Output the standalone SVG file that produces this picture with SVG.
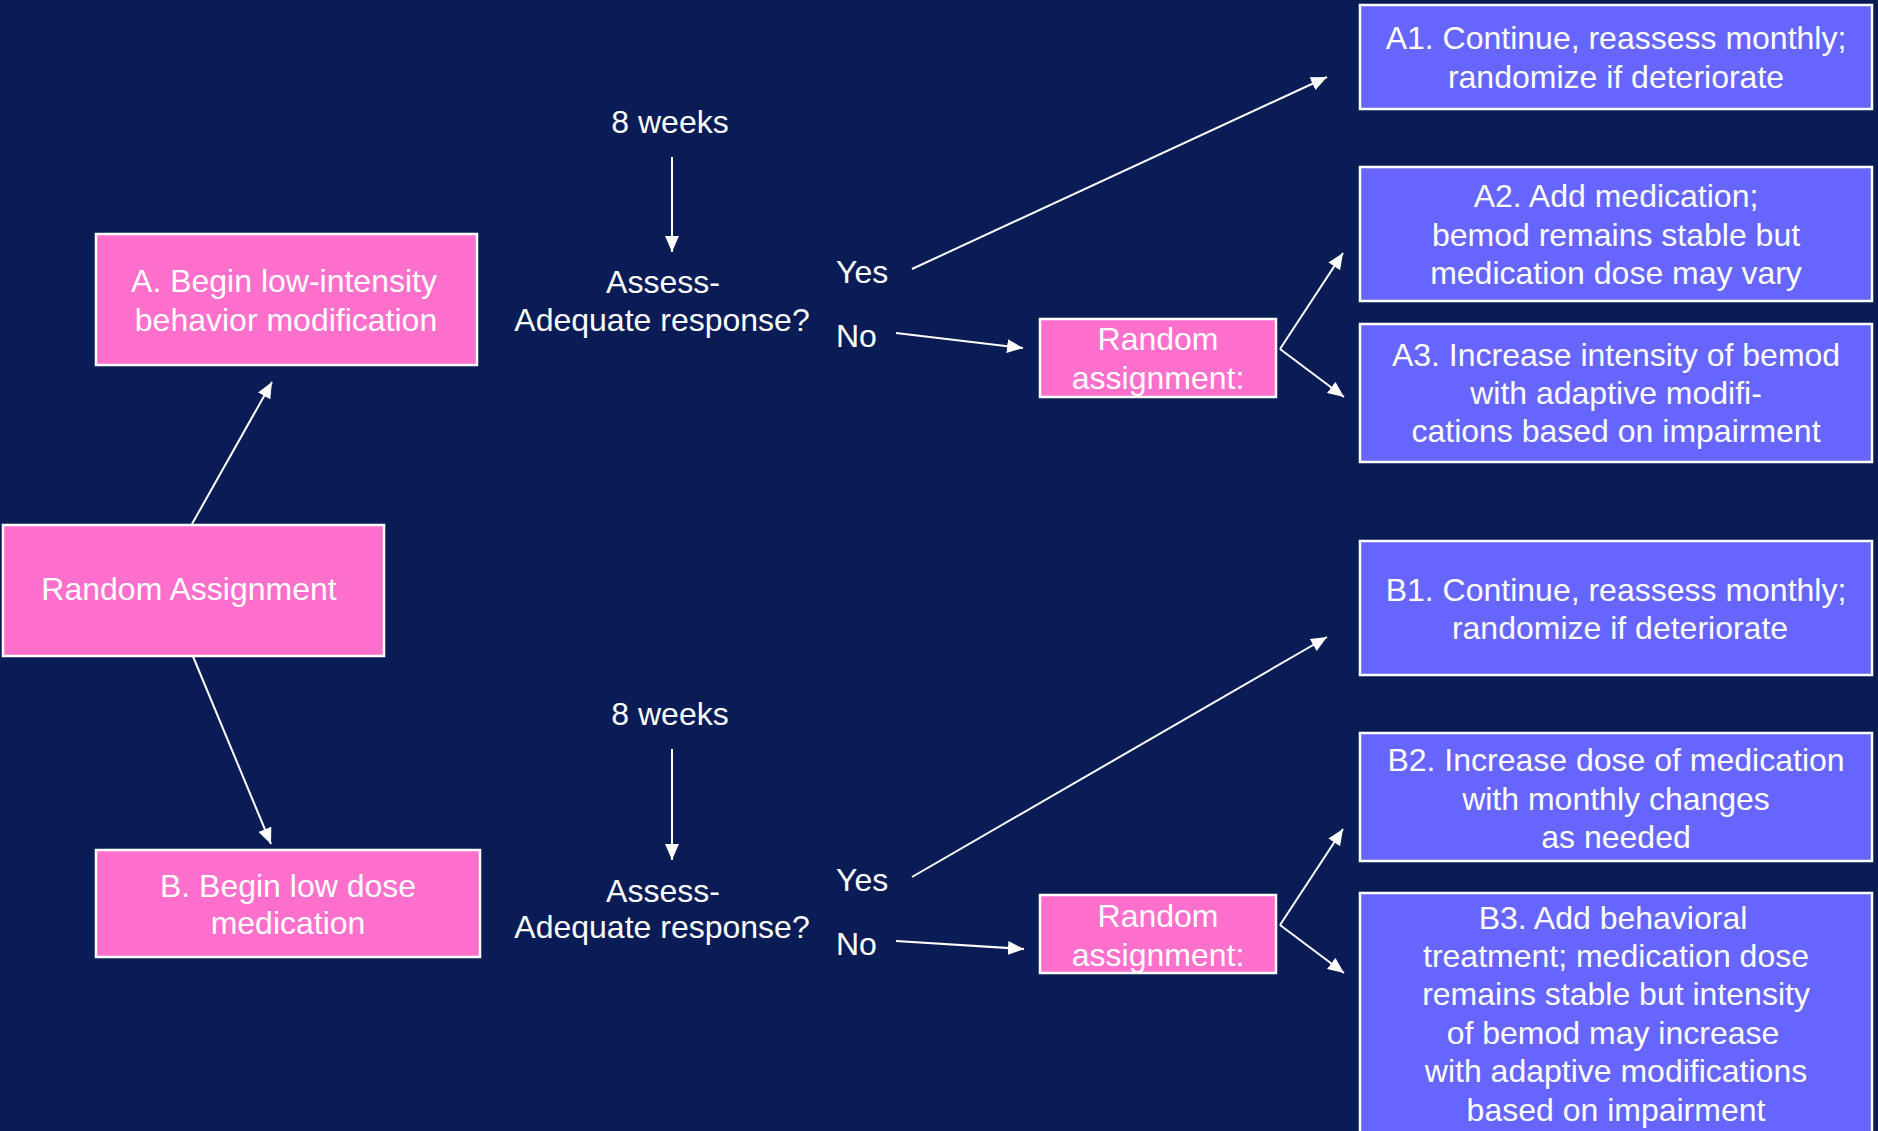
<svg xmlns="http://www.w3.org/2000/svg" width="1878" height="1131" viewBox="0 0 1878 1131">
<defs>
<style>
.bg{fill:#0a1c56}
.pink{fill:#ff70cc;stroke:#ffffff;stroke-width:2.5}
.blue{fill:#6666ff;stroke:#ffffff;stroke-width:2.5}
text{font-family:"Liberation Sans",Arial,sans-serif;font-size:32px;fill:#ffffff}
.c{text-anchor:middle}
.ln{stroke:#ffffff;stroke-width:2;fill:none}
</style>
<marker id="ah" viewBox="0 0 16 14" refX="16" refY="7" markerWidth="16" markerHeight="14" markerUnits="userSpaceOnUse" orient="auto">
<path d="M0,0 L16,7 L0,14 z" fill="#ffffff"/>
</marker>
</defs>
<rect class="bg" x="0" y="0" width="1878" height="1131"/>

<g id="connectors">
<line class="ln" x1="192" y1="524" x2="272" y2="382" marker-end="url(#ah)"/>
<line class="ln" x1="192" y1="654" x2="271" y2="844" marker-end="url(#ah)"/>
<line class="ln" x1="672" y1="157" x2="672" y2="252" marker-end="url(#ah)"/>
<line class="ln" x1="672" y1="749" x2="672" y2="860" marker-end="url(#ah)"/>
<line class="ln" x1="912" y1="269" x2="1327" y2="77" marker-end="url(#ah)"/>
<line class="ln" x1="896" y1="333" x2="1023" y2="348" marker-end="url(#ah)"/>
<line class="ln" x1="912" y1="877" x2="1327" y2="637" marker-end="url(#ah)"/>
<line class="ln" x1="896" y1="941" x2="1024" y2="949" marker-end="url(#ah)"/>
<line class="ln" x1="1280" y1="349" x2="1343" y2="253" marker-end="url(#ah)"/>
<line class="ln" x1="1280" y1="349" x2="1344" y2="397" marker-end="url(#ah)"/>
<line class="ln" x1="1280" y1="925" x2="1343" y2="829" marker-end="url(#ah)"/>
<line class="ln" x1="1280" y1="925" x2="1344" y2="973" marker-end="url(#ah)"/>
</g>

<g id="random-assignment">
<rect class="pink" x="3" y="525" width="381" height="131"/>
<text x="189" y="600" class="c">Random Assignment</text>
</g>

<g id="node-a">
<rect class="pink" x="96" y="234" width="381" height="131"/>
<text x="284" y="292" class="c">A. Begin low-intensity</text>
<text x="286" y="331" class="c">behavior modification</text>
</g>

<g id="node-b">
<rect class="pink" x="96" y="850" width="384" height="107"/>
<text x="288" y="897" class="c">B. Begin low dose</text>
<text x="288" y="934" class="c">medication</text>
</g>

<g id="label-8weeks-a"><text x="670" y="133" class="c">8 weeks</text></g>
<g id="label-8weeks-b"><text x="670" y="725" class="c">8 weeks</text></g>

<g id="assess-a">
<text x="663" y="293" class="c">Assess-</text>
<text x="662" y="331" class="c">Adequate response?</text>
</g>
<g id="assess-b">
<text x="663" y="902" class="c">Assess-</text>
<text x="662" y="938" class="c">Adequate response?</text>
</g>

<g id="yes-a"><text x="836" y="283">Yes</text></g>
<g id="no-a"><text x="836" y="347">No</text></g>
<g id="yes-b"><text x="836" y="891">Yes</text></g>
<g id="no-b"><text x="836" y="955">No</text></g>

<g id="random-a">
<rect class="pink" x="1040" y="319" width="236" height="78"/>
<text x="1158" y="350" class="c">Random</text>
<text x="1158" y="389" class="c">assignment:</text>
</g>
<g id="random-b">
<rect class="pink" x="1040" y="895" width="236" height="78"/>
<text x="1158" y="927" class="c">Random</text>
<text x="1158" y="966" class="c">assignment:</text>
</g>

<g id="a1">
<rect class="blue" x="1360" y="5" width="512" height="104"/>
<text x="1616" y="49" class="c">A1. Continue, reassess monthly;</text>
<text x="1616" y="88" class="c">randomize if deteriorate</text>
</g>
<g id="a2">
<rect class="blue" x="1360" y="167" width="512" height="134"/>
<text x="1616" y="207" class="c">A2. Add medication;</text>
<text x="1616" y="246" class="c">bemod remains stable but</text>
<text x="1616" y="284" class="c">medication dose may vary</text>
</g>
<g id="a3">
<rect class="blue" x="1360" y="324" width="512" height="138"/>
<text x="1616" y="366" class="c">A3. Increase intensity of bemod</text>
<text x="1616" y="404" class="c">with adaptive modifi-</text>
<text x="1616" y="442" class="c">cations based on impairment</text>
</g>
<g id="b1">
<rect class="blue" x="1360" y="541" width="512" height="134"/>
<text x="1616" y="601" class="c">B1. Continue, reassess monthly;</text>
<text x="1620" y="639" class="c">randomize if deteriorate</text>
</g>
<g id="b2">
<rect class="blue" x="1360" y="733" width="512" height="128"/>
<text x="1616" y="771" class="c">B2. Increase dose of medication</text>
<text x="1616" y="810" class="c">with monthly changes</text>
<text x="1616" y="848" class="c">as needed</text>
</g>
<g id="b3">
<rect class="blue" x="1360" y="893" width="512" height="250"/>
<text x="1613" y="929" class="c">B3. Add behavioral</text>
<text x="1616" y="967" class="c">treatment; medication dose</text>
<text x="1616" y="1005" class="c">remains stable but intensity</text>
<text x="1613" y="1044" class="c">of bemod may increase</text>
<text x="1616" y="1082" class="c">with adaptive modifications</text>
<text x="1616" y="1121" class="c">based on impairment</text>
</g>
</svg>
